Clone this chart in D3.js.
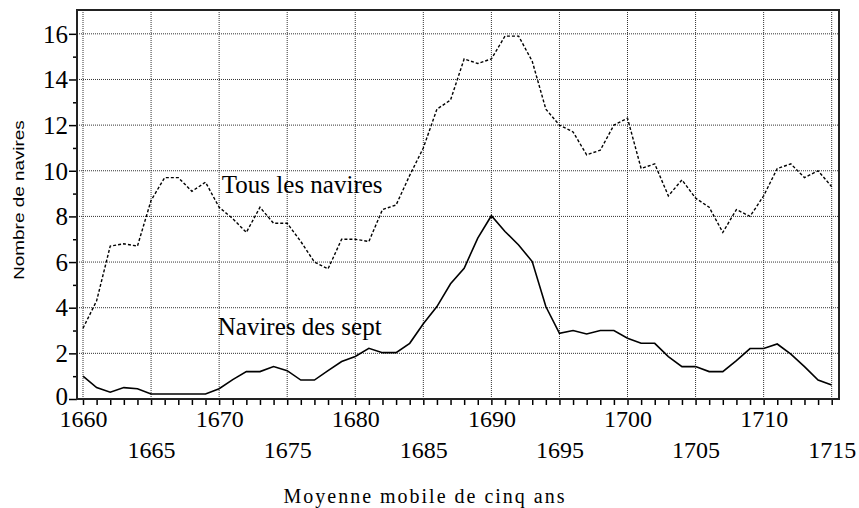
<!DOCTYPE html>
<html lang="fr">
<head>
<meta charset="utf-8">
<title>Nombre de navires</title>
<script src="https://d3js.org/d3.v7.min.js"></script>
<style>
  body { margin: 0; background: #fff; }
  svg { display: block; }
</style>
</head>
<body>
<div id="chart"></div>
<script>
// Data (five-year moving averages)
var years = d3.range(1660, 1716);
var tousLesNavires = [3.1, 4.3, 6.7, 6.8, 6.7, 8.7, 9.7, 9.7, 9.1, 9.5,
                      8.4, 7.9, 7.3, 8.4, 7.7, 7.7, 6.9, 6.0, 5.7, 7.0,
                      7.0, 6.9, 8.3, 8.5, 9.8, 11.0, 12.7, 13.1, 14.9, 14.7,
                      14.9, 15.9, 15.9, 14.8, 12.7, 12.0, 11.7, 10.7, 10.9, 12.0,
                      12.3, 10.1, 10.3, 8.9, 9.6, 8.8, 8.4, 7.3, 8.3, 8.0,
                      8.9, 10.1, 10.3, 9.7, 10.0, 9.3];
var naviresDesSept = [1.0, 0.5, 0.3, 0.5, 0.45, 0.22, 0.22, 0.22, 0.22, 0.22,
                      0.45, 0.85, 1.2, 1.2, 1.42, 1.24, 0.83, 0.83, 1.24, 1.64,
                      1.86, 2.22, 2.03, 2.03, 2.44, 3.3, 4.05, 5.05, 5.73, 7.05,
                      8.03, 7.34, 6.75, 6.02, 4.05, 2.88, 3.0, 2.85, 3.0, 3.0,
                      2.66, 2.44, 2.44, 1.86, 1.42, 1.42, 1.2, 1.2, 1.68, 2.21,
                      2.21, 2.41, 1.97, 1.42, 0.83, 0.61];
var yTicks = d3.range(0, 17, 2);
var yMinor = d3.range(1, 17, 2);
var xGrid = d3.range(1660, 1716, 5);

var W = 859, H = 508;
var serif = '"Liberation Serif", "Times New Roman", serif';

var svg = d3.select("#chart").append("svg")
    .attr("width", W)
    .attr("height", H);

var x = d3.scaleLinear().domain([1660, 1715]).range([83, 831.7]);
var y = d3.scaleLinear().domain([0, 17]).range([399, 11]);

var frame = {left: 77, right: 839, top: 10, bottom: 399};

// grid
svg.append("g").selectAll("line")
    .data(yTicks.slice(1))
    .enter().append("line")
    .attr("x1", frame.left).attr("x2", frame.right)
    .attr("y1", function(d) { return y(d); })
    .attr("y2", function(d) { return y(d); })
    .attr("stroke", "#333")
    .attr("stroke-width", 1)
    .attr("stroke-dasharray", "1,1");

svg.append("g").selectAll("line")
    .data(xGrid)
    .enter().append("line")
    .attr("x1", function(d) { return x(d); })
    .attr("x2", function(d) { return x(d); })
    .attr("y1", frame.top).attr("y2", frame.bottom)
    .attr("stroke", "#333")
    .attr("stroke-width", 1)
    .attr("stroke-dasharray", "1,1");

// y axis: major ticks with labels, then minor ticks
var yAxis = svg.append("g")
    .attr("transform", "translate(" + frame.left + ",0)")
    .call(d3.axisLeft(y).tickValues(yTicks).tickSize(8).tickPadding(1).tickFormat(d3.format("d")));
yAxis.select(".domain").remove();
yAxis.selectAll(".tick line").attr("stroke", "#000").attr("stroke-width", 1.5);
yAxis.selectAll(".tick text")
    .style("font-family", serif).style("font-size", "25px")
    .attr("dy", "0.33em");
yAxis.selectAll(".tick")
    .filter(function(d) { return d === 0; })
    .select("text").attr("dy", "0.2em");

var yAxisMinor = svg.append("g")
    .attr("transform", "translate(" + frame.left + ",0)")
    .call(d3.axisLeft(y).tickValues(yMinor).tickSize(4).tickFormat(""));
yAxisMinor.select(".domain").remove();
yAxisMinor.selectAll(".tick line").attr("stroke", "#000").attr("stroke-width", 1.5);

// x axis: a tick per year, labels every 5 years on two rows
var xAxis = svg.append("g")
    .attr("transform", "translate(0," + frame.bottom + ")")
    .call(d3.axisBottom(x).tickValues(years).tickSize(6)
        .tickFormat(function(d) { return d % 5 === 0 ? d : ""; }));
xAxis.select(".domain").remove();
xAxis.selectAll(".tick line").attr("stroke", "#000").attr("stroke-width", 1.5);
xAxis.selectAll(".tick text")
    .style("font-family", serif).style("font-size", "24px")
    .attr("dy", null)
    .attr("y", function(d) { return d % 10 === 0 ? 28 : 59; });

// frame
svg.append("rect")
    .attr("x", frame.left).attr("y", frame.top)
    .attr("width", frame.right - frame.left)
    .attr("height", frame.bottom - frame.top)
    .attr("fill", "none")
    .attr("stroke", "#222")
    .attr("stroke-width", 2);

// lines
var line = d3.line()
    .x(function(d, i) { return x(years[i]); })
    .y(function(d) { return y(d); });

svg.append("path")
    .datum(tousLesNavires)
    .attr("d", line)
    .attr("fill", "none")
    .attr("stroke", "#000")
    .attr("stroke-width", 1.4)
    .attr("stroke-dasharray", "3,2");

svg.append("path")
    .datum(naviresDesSept)
    .attr("d", line)
    .attr("fill", "none")
    .attr("stroke", "#000")
    .attr("stroke-width", 1.6);

// series labels
svg.append("text")
    .attr("x", x(1670.2)).attr("y", y(9.04))
    .style("font-family", serif).style("font-size", "25px")
    .text("Tous les navires");

svg.append("text")
    .attr("x", x(1669.9)).attr("y", y(2.81))
    .style("font-family", serif).style("font-size", "25px")
    .text("Navires des sept");

// axis titles
svg.append("text")
    .attr("x", 425).attr("y", 503)
    .attr("text-anchor", "middle")
    .style("font-family", serif).style("font-size", "20px")
    .style("letter-spacing", "2px")
    .text("Moyenne mobile de cinq ans");

svg.append("text")
    .attr("transform", "translate(24,200) rotate(-90) scale(1.35,1)")
    .attr("text-anchor", "middle")
    .style("font-family", '"Liberation Sans", Arial, sans-serif')
    .style("font-size", "14px")
    .text("Nombre de navires");
</script>
</body>
</html>
